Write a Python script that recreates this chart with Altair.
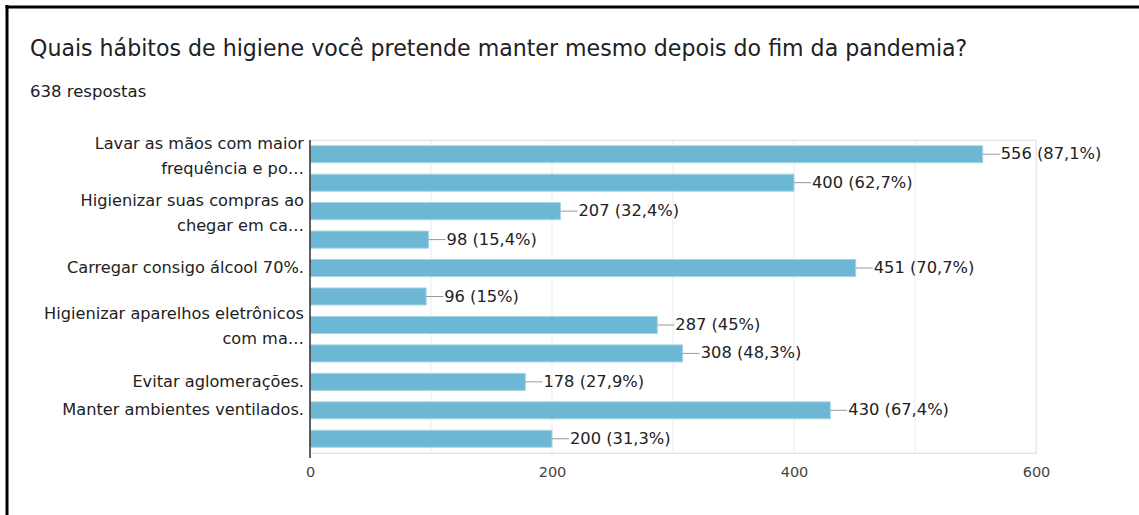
import altair as alt
import pandas as pd

# Data (11 options, 638 responses)
title_text = "Quais hábitos de higiene você pretende manter mesmo depois do fim da pandemia?"
subtitle_text = "638 respostas"
labels = [
    "Lavar as mãos com maior\nfrequência e po…",
    "",
    "Higienizar suas compras ao\nchegar em ca…",
    "",
    "Carregar consigo álcool 70%.",
    "",
    "Higienizar aparelhos eletrônicos\ncom ma…",
    "",
    "Evitar aglomerações.",
    "Manter ambientes ventilados.",
    "",
]
counts = [556, 400, 207, 98, 451, 96, 287, 308, 178, 430, 200]
percents = ["87,1%", "62,7%", "32,4%", "15,4%", "70,7%", "15%", "45%", "48,3%", "27,9%", "67,4%", "31,3%"]
x_ticks = [0, 200, 400, 600]
x_grid = [0, 100, 200, 300, 400, 500, 600]

df = pd.DataFrame({
    "pos": list(range(len(counts))),
    "label": labels,
    "count": counts,
    "text": [f"{c} ({p})" for c, p in zip(counts, percents)],
})

FONT = "DejaVu Sans"

y_scale = alt.Scale(paddingInner=0.4, paddingOuter=0.2)
y_enc = alt.Y("pos:O", sort=None, scale=y_scale, axis=None)
x_scale = alt.Scale(domain=[0, 600], nice=False)

base = alt.Chart(df)

bars = base.mark_bar(color="#6cb8d4", stroke="#a9d6e6", strokeWidth=1).encode(
    x=alt.X(
        "count:Q",
        scale=x_scale,
        axis=alt.Axis(
            values=x_ticks,
            title=None,
            grid=False,
            domain=False,
            ticks=False,
            labelFlush=False,
            labelFont=FONT,
            labelFontSize=14.5,
            labelColor="#444444",
            labelPadding=12,
        ),
    ),
    y=y_enc,
)

grid = alt.Chart(pd.DataFrame({"g": x_grid})).mark_rule(
    color="#ebebeb", strokeWidth=1
).encode(x=alt.X("g:Q", scale=x_scale), y=alt.value(0), y2=alt.value(313))

top_line = alt.Chart(pd.DataFrame({"a": [0]})).mark_rule(
    color="#ebebeb", strokeWidth=1
).encode(x=alt.value(0), x2=alt.value(726), y=alt.value(0))

bottom_line = alt.Chart(pd.DataFrame({"a": [0]})).mark_rule(
    color="#ebebeb", strokeWidth=1
).encode(x=alt.value(0), x2=alt.value(726), y=alt.value(313))

left_axis = alt.Chart(pd.DataFrame({"a": [0]})).mark_rule(
    color="#333333", strokeWidth=1.5
).encode(x=alt.value(0), y=alt.value(0), y2=alt.value(318))

connectors = base.mark_rule(color="#999999", strokeWidth=1, x2Offset=17).encode(
    x=alt.X("count:Q", scale=x_scale),
    x2="count:Q",
    y=alt.Y("pos:O", sort=None, scale=y_scale, axis=None, bandPosition=0.5),
)

values = base.mark_text(
    align="left", baseline="middle", dx=18, font=FONT, fontSize=16.3, color="#222222"
).encode(
    x=alt.X("count:Q", scale=x_scale),
    y=y_enc,
    text="text:N",
)

ylabels_single = base.transform_filter(
    "indexof(datum.label, '\\n') < 0"
).mark_text(
    align="right", baseline="middle", font=FONT, fontSize=16.2, color="#222222",
).encode(x=alt.value(-6), y=y_enc, text="label:N")

ylabels_multi = base.transform_filter(
    "indexof(datum.label, '\\n') >= 0"
).mark_text(
    align="right", baseline="middle", font=FONT, fontSize=16.2, color="#222222",
    lineBreak="\n", lineHeight=25, dy=-10.5,
).encode(x=alt.value(-6), y=y_enc, text="label:N")

one = pd.DataFrame({"a": [0]})

title = alt.Chart(one).mark_text(
    align="left", baseline="alphabetic", font=FONT, fontSize=22.1, color="#202124",
    text=title_text,
).encode(x=alt.value(-280), y=alt.value(-84))

subtitle = alt.Chart(one).mark_text(
    align="left", baseline="alphabetic", font=FONT, fontSize=16.5, color="#202124",
    text=subtitle_text,
).encode(x=alt.value(-280), y=alt.value(-43))

frame_left = alt.Chart(one).mark_rule(
    color="#000000", strokeWidth=3
).encode(x=alt.value(-303), y=alt.value(-135), y2=alt.value(375))

frame_top = alt.Chart(one).mark_rule(
    color="#000000", strokeWidth=3
).encode(x=alt.value(-304.5), x2=alt.value(829), y=alt.value(-133))

chart = alt.layer(
    grid, top_line, bottom_line, bars, connectors, values,
    ylabels_single, ylabels_multi, left_axis,
    title, subtitle, frame_left, frame_top,
).properties(
    width=726,
    height=313,
    padding={"left": 310, "top": 140, "right": 103, "bottom": 62},
    autosize="none",
).configure_view(stroke=None).configure(background="white")

chart.save("out.html", embed_options={"renderer": "svg", "actions": False})
